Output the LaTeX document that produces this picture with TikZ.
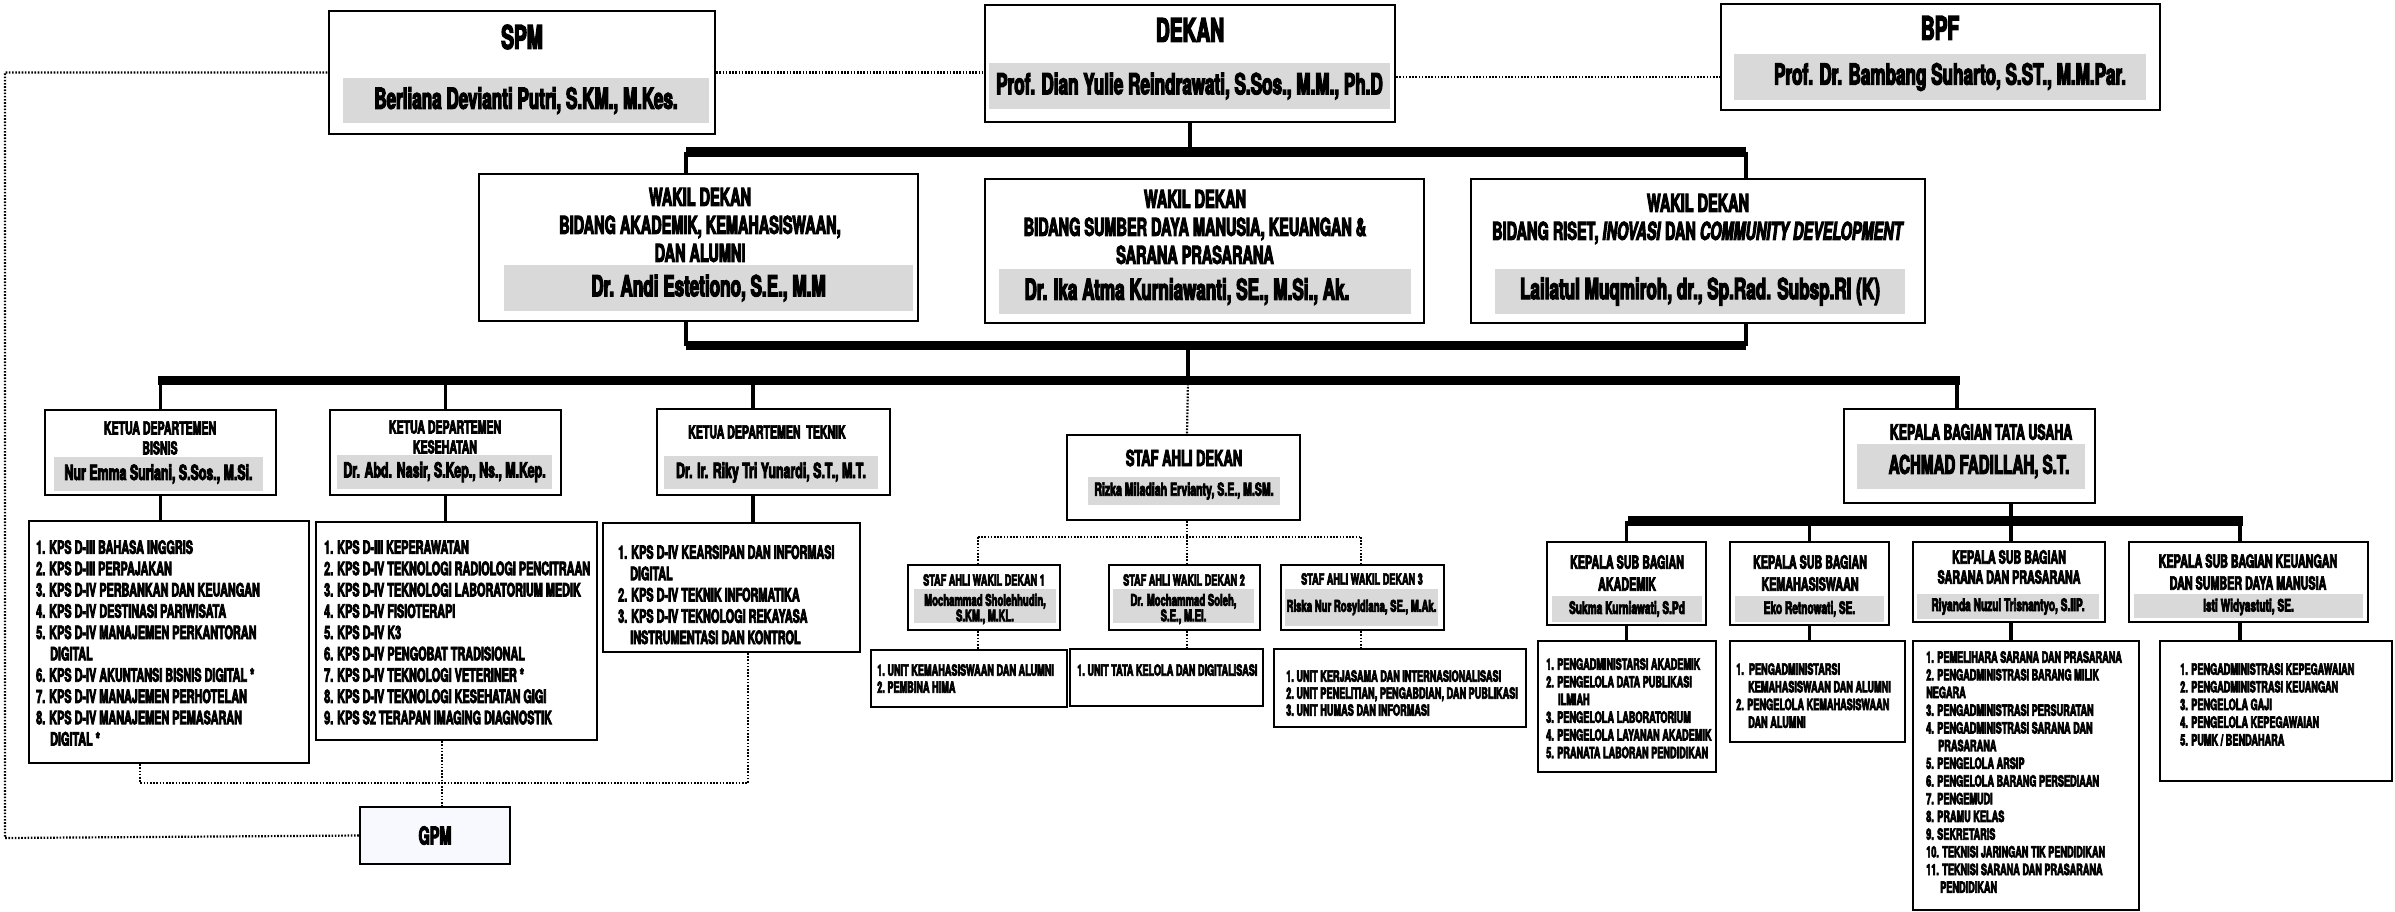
\documentclass[tikz,border=0pt]{standalone}
\usepackage{fontspec}
\setmainfont{TeX Gyre Heros}[FakeStretch=0.59,FakeBold=4]
\usetikzlibrary{calc}
\usetikzlibrary{fit}
\usetikzlibrary{backgrounds}
\definecolor{bandgray}{HTML}{D9D9D9}
\definecolor{gpmfill}{HTML}{F8F8FF}

\begin{document}
\begin{tikzpicture}[x=1pt,y=-1pt,
  every node/.style={inner sep=0pt,font=\bfseries},
  box/.style={draw,line width=2.4pt,fill=white,inner sep=0pt},
  band/.style={fill=bandgray,inner sep=0pt},
  conn/.style={line width=3.5pt},
  bar/.style={line width=9.5pt},
  dots/.style={line width=2.2pt,dash pattern=on 1.6pt off 1.6pt},
  bigtitle/.style={font=\fontsize{32.5}{36}\selectfont\bfseries},
  bigname/.style={font=\fontsize{29}{32}\selectfont\bfseries},
  wdtitle/.style={font=\fontsize{24.5}{28}\selectfont\bfseries,align=center},
  kdtitle/.style={font=\fontsize{17.9}{20}\selectfont\bfseries,align=center},
  kdname/.style={font=\fontsize{21}{23}\selectfont\bfseries},
  kdlist/.style={font=\fontsize{18.4}{21.3}\selectfont\bfseries,align=left,anchor=north west},
  satitle/.style={font=\fontsize{22}{24}\selectfont\bfseries},
  saname/.style={font=\fontsize{17.9}{20}\selectfont\bfseries},
  swtitle/.style={font=\fontsize{15.5}{16}\selectfont\bfseries},
  swname/.style={font=\fontsize{16.2}{15.5}\selectfont\bfseries,align=center},
  unitlist/.style={font=\fontsize{15.5}{17}\selectfont\bfseries,align=left,anchor=north west},
  tutitle/.style={font=\fontsize{21}{23}\selectfont\bfseries},
  tuname/.style={font=\fontsize{25.6}{28}\selectfont\bfseries},
  sbtitle/.style={font=\fontsize{18.2}{22}\selectfont\bfseries,align=center},
  sbname/.style={font=\fontsize{17.2}{19}\selectfont\bfseries},
  sblist/.style={font=\fontsize{15.5}{17.7}\selectfont\bfseries,align=left,anchor=north west}]

\useasboundingbox (0,0) rectangle (2395,912);

\node[box,fit={(329,11) (715,134)}] (spm) {};
\node[bigtitle] (spmt) at (522,37) {SPM};
\node[band,fit={(343,78) (709,123)}] (spmb) {};
\node[bigname] (spmn) at (spmb) {Berliana Devianti Putri, S.KM., M.Kes.};

\node[box,fit={(985,5) (1395,122)}] (dek) {};
\node[bigtitle] (dekt) at (1190,30) {DEKAN};
\node[band,fit={(989,63) (1390,109)}] (dekb) {};
\node[bigname] (dekn) at (dekb) {Prof. Dian Yulie Reindrawati, S.Sos., M.M., Ph.D};

\node[box,fit={(1721,4) (2160,110)}] (bpf) {};
\node[bigtitle] (bpft) at (1940,28) {BPF};
\node[band,fit={(1734,54) (2146,100)}] (bpfb) {};
\node[bigname] (bpfn) at ([xshift=10pt]bpfb.center) {Prof. Dr. Bambang Suharto, S.ST., M.M.Par.};

\node[box,fit={(479,174) (918,321)}] (wd1) {};
\node[wdtitle] (wd1t) at (700,225) {WAKIL DEKAN\\BIDANG AKADEMIK, KEMAHASISWAAN,\\DAN ALUMNI};
\node[band,fit={(504,265) (913,311)}] (wd1b) {};
\node[bigname] (wd1n) at (wd1b) {Dr. Andi Estetiono, S.E., M.M};

\node[box,fit={(985,179) (1424,323)}] (wd2) {};
\node[wdtitle] (wd2t) at (1195,227) {WAKIL DEKAN\\BIDANG SUMBER DAYA MANUSIA, KEUANGAN \&\\SARANA PRASARANA};
\node[band,fit={(999,269) (1411,314)}] (wd2b) {};
\node[bigname] (wd2n) at ([xshift=-18pt]wd2b.center) {Dr. Ika Atma Kurniawanti, SE., M.Si., Ak.};

\node[box,fit={(1471,179) (1925,323)}] (wd3) {};
\node[wdtitle] (wd3t) at (1698,219) {WAKIL DEKAN\\BIDANG RISET, \textit{INOVASI} DAN \textit{COMMUNITY DEVELOPMENT}};
\node[band,fit={(1495,269) (1905,314)}] (wd3b) {};
\node[bigname] (wd3n) at (wd3b) {Lailatul Muqmiroh, dr., Sp.Rad. Subsp.RI (K)};

\node[box,fit={(45,410) (276,495)}] (bis) {};
\node[kdtitle] (bist) at (160,438) {KETUA DEPARTEMEN\\BISNIS};
\node[band,fit={(54,457) (263,491)}] (bisb) {};
\node[kdname] (bisn) at (bisb) {Nur Emma Suriani, S.Sos., M.Si.};

\node[box,fit={(330,410) (561,495)}] (kes) {};
\node[kdtitle] (kest) at (445,437) {KETUA DEPARTEMEN\\KESEHATAN};
\node[band,fit={(337,455) (552,489)}] (kesb) {};
\node[kdname] (kesn) at (kesb) {Dr. Abd. Nasir, S.Kep., Ns., M.Kep.};

\node[box,fit={(657,409) (890,495)}] (tek) {};
\node[kdtitle] (tekt) at (767,432) {KETUA DEPARTEMEN\ \ TEKNIK};
\node[band,fit={(664,456) (878,489)}] (tekb) {};
\node[kdname] (tekn) at (tekb) {Dr. Ir. Riky Tri Yunardi, S.T., M.T.};

\node[box,fit={(29,521) (309,763)}] (bisl) {};
\node[kdlist] (bislt) at (36,540) {1. KPS D-III BAHASA INGGRIS\\2. KPS D-III PERPAJAKAN\\3. KPS D-IV PERBANKAN DAN KEUANGAN\\4. KPS D-IV DESTINASI PARIWISATA\\5. KPS D-IV MANAJEMEN PERKANTORAN\\\hspace*{14pt}DIGITAL\\6. KPS D-IV AKUNTANSI BISNIS DIGITAL *\\7. KPS D-IV MANAJEMEN PERHOTELAN\\8. KPS D-IV MANAJEMEN PEMASARAN\\\hspace*{14pt}DIGITAL *};

\node[box,fit={(316,522) (597,740)}] (kesl) {};
\node[kdlist] (keslt) at (324,540) {1. KPS D-III KEPERAWATAN\\2. KPS D-IV TEKNOLOGI RADIOLOGI PENCITRAAN\\3. KPS D-IV TEKNOLOGI LABORATORIUM MEDIK\\4. KPS D-IV FISIOTERAPI\\5. KPS D-IV K3\\6. KPS D-IV PENGOBAT TRADISIONAL\\7. KPS D-IV TEKNOLOGI VETERINER *\\8. KPS D-IV TEKNOLOGI KESEHATAN GIGI\\9. KPS S2 TERAPAN IMAGING DIAGNOSTIK};

\node[box,fit={(603,523) (860,652)}] (tekl) {};
\node[kdlist] (teklt) at (618,545) {1. KPS D-IV KEARSIPAN DAN INFORMASI\\\hspace*{12pt}DIGITAL\\2. KPS D-IV TEKNIK INFORMATIKA\\3. KPS D-IV TEKNOLOGI REKAYASA\\\hspace*{12pt}INSTRUMENTASI DAN KONTROL};

\node[box,fill=gpmfill,fit={(360,807) (510,864)}] (gpm) {};
\node[font=\fontsize{24.5}{26}\selectfont\bfseries] (gpmt) at (gpm) {GPM};

\node[box,fit={(1067,435) (1300,520)}] (sad) {};
\node[satitle] (sadt) at (1184,458) {STAF AHLI DEKAN};
\node[band,fit={(1088,477) (1280,505)}] (sadb) {};
\node[saname] (sadn) at (sadb) {Rizka Miladiah Ervianty, S.E., M.SM.};

\node[box,fit={(908,565) (1060,630)}] (sa1) {};
\node[swtitle] (sa1t) at (984,580) {STAF AHLI WAKIL DEKAN 1};
\node[band,fit={(914,589) (1056,623)}] (sa1b) {};
\node[swname] (sa1n) at ([yshift=-3pt]sa1b.center) {Mochammad Sholehhudin,\\S.KM., M.KL.};

\node[box,fit={(1109,565) (1260,630)}] (sa2) {};
\node[swtitle] (sa2t) at (1184,580) {STAF AHLI WAKIL DEKAN 2};
\node[band,fit={(1113,589) (1254,623)}] (sa2b) {};
\node[swname] (sa2n) at ([yshift=-3pt]sa2b.center) {Dr. Mochammad Soleh,\\S.E., M.EI.};

\node[box,fit={(1281,565) (1444,630)}] (sa3) {};
\node[swtitle] (sa3t) at (1362,579) {STAF AHLI WAKIL DEKAN 3};
\node[band,fit={(1285,589) (1438,626)}] (sa3b) {};
\node[swname] (sa3n) at (sa3b) {Riska Nur Rosyidiana, SE., M.Ak.};

\node[box,fit={(871,650) (1067,707)}] (u1) {};
\node[unitlist] (u1t) at (877,664) {1.\,UNIT KEMAHASISWAAN DAN ALUMNI\\2.\,PEMBINA HIMA};
\node[box,fit={(1070,649) (1263,706)}] (u2) {};
\node[unitlist] (u2t) at (1077,664) {1.\,UNIT TATA KELOLA DAN DIGITALISASI};
\node[box,fit={(1274,649) (1526,727)}] (u3) {};
\node[unitlist] (u3t) at (1286,670) {1.\,UNIT KERJASAMA DAN INTERNASIONALISASI\\2.\,UNIT PENELITIAN, PENGABDIAN, DAN PUBLIKASI\\3.\,UNIT HUMAS DAN INFORMASI};

\node[box,fit={(1844,409) (2095,503)}] (tu) {};
\node[tutitle] (tut) at (1981,432) {KEPALA BAGIAN TATA USAHA};
\node[band,fit={(1857,444) (2085,489)}] (tub) {};
\node[tuname] (tun) at ([xshift=8pt]tub.center) {ACHMAD FADILLAH, S.T.};

\node[box,fit={(1547,542) (1706,625)}] (sb1) {};
\node[sbtitle] (sb1t) at (1627,573) {KEPALA SUB BAGIAN\\AKADEMIK};
\node[band,fit={(1552,596) (1702,622)}] (sb1b) {};
\node[sbname] (sb1n) at (sb1b) {Sukma Kurniawati, S.Pd};

\node[box,fit={(1730,542) (1889,625)}] (sb2) {};
\node[sbtitle] (sb2t) at (1810,573) {KEPALA SUB BAGIAN\\KEMAHASISWAAN};
\node[band,fit={(1735,596) (1884,622)}] (sb2b) {};
\node[sbname] (sb2n) at (sb2b) {Eko Retnowati, SE.};

\node[box,fit={(1913,542) (2105,622)}] (sb3) {};
\node[sbtitle,font=\fontsize{18.2}{20}\selectfont\bfseries] (sb3t) at (2009,567) {KEPALA SUB BAGIAN\\SARANA DAN PRASARANA};
\node[band,fit={(1917,594) (2099,619)}] (sb3b) {};
\node[sbname] (sb3n) at (sb3b) {Riyanda Nuzul Trisnantyo, S.IIP.};

\node[box,fit={(2129,542) (2368,622)}] (sb4) {};
\node[sbtitle] (sb4t) at (2248,572) {KEPALA SUB BAGIAN KEUANGAN\\DAN SUMBER DAYA MANUSIA};
\node[band,fit={(2134,594) (2363,618)}] (sb4b) {};
\node[sbname] (sb4n) at ([yshift=-1pt]sb4b.center) {Isti Widyastuti, SE.};

\node[box,fit={(1538,641) (1716,772)}] (l1) {};
\node[sblist] (l1t) at (1546,658) {1. PENGADMINISTARSI AKADEMIK\\2. PENGELOLA DATA PUBLIKASI\\\hspace*{12pt}ILMIAH\\3. PENGELOLA LABORATORIUM\\4. PENGELOLA LAYANAN AKADEMIK\\5. PRANATA LABORAN PENDIDIKAN};

\node[box,fit={(1730,641) (1905,742)}] (l2) {};
\node[sblist] (l2t) at (1736,663) {1.\ \ PENGADMINISTARSI\\\hspace*{12pt}KEMAHASISWAAN DAN ALUMNI\\2. PENGELOLA KEMAHASISWAAN\\\hspace*{12pt}DAN ALUMNI};

\node[box,fit={(1913,641) (2139,910)}] (l3) {};
\node[sblist] (l3t) at (1926,651) {1. PEMELIHARA SARANA DAN PRASARANA\\2. PENGADMINISTRASI BARANG MILIK\\NEGARA\\3. PENGADMINISTRASI PERSURATAN\\4. PENGADMINISTRASI SARANA DAN\\\hspace*{12pt}PRASARANA\\5. PENGELOLA ARSIP\\6. PENGELOLA BARANG PERSEDIAAN\\7. PENGEMUDI\\8. PRAMU KELAS\\9. SEKRETARIS\\10. TEKNISI JARINGAN TIK PENDIDIKAN\\11. TEKNISI SARANA DAN PRASARANA\\\hspace*{14pt}PENDIDIKAN};

\node[box,fit={(2160,641) (2392,781)}] (l4) {};
\node[sblist] (l4t) at (2180,663) {1. PENGADMINISTRASI KEPEGAWAIAN\\2. PENGADMINISTRASI KEUANGAN\\3. PENGELOLA GAJI\\4. PENGELOLA KEPEGAWAIAN\\5. PUMK / BENDAHARA};

\begin{scope}[on background layer]
\coordinate (b1l) at (686,152);
\coordinate (b1r) at (1746,152);
\coordinate (b2l) at (686,345.5);
\coordinate (b2r) at (1746,345.5);
\coordinate (b2c) at (1188,345.5);
\coordinate (lbl) at (158,380.5);
\coordinate (lbr) at (1960,380.5);
\coordinate (tekx) at (753,0);
\coordinate (tux) at (1957,0);
\coordinate (tbl) at (1628,521);
\coordinate (tbr) at (2243,521);
\coordinate (tbx) at (2011,0);
\coordinate (sbx4) at (2240,0);
\coordinate (sah) at (1187,537);
\coordinate (sahl) at (978,537);
\coordinate (sahr) at (1361,537);
\coordinate (gl) at (140,783);
\coordinate (gr) at (748,783);
\coordinate (gx) at (442,783);
\coordinate (lft) at (5,838);
\coordinate (dby) at (0,77);

\draw[dots] (spm.east) -- (spm.east -| dek.west);
\draw[dots] (dek.east |- dby) -- (bpf.west |- dby);
\draw[dots] (gpm.west) -- (lft) -- (lft |- spm.west) -- (spm.west);

\draw[conn] (dek.south) -- (dek.south |- b1l);
\draw[bar] (b1l) -- (b1r);
\draw[conn] (b1l) -- (b2l);
\draw[conn] (b1r) -- (b2r);
\draw[bar] (b2l) -- (b2r);
\draw[conn] (b2c) -- (b2c |- lbl);
\draw[bar] (lbl) -- (lbr);

\draw[conn] (bis.north |- lbl) -- (bis.north);
\draw[conn] (kes.north |- lbl) -- (kes.north);
\draw[conn] (tekx |- lbl) -- (tekx |- tek.north);
\draw[conn] (tux |- lbl) -- (tux |- tu.north);
\draw[dots] (b2c |- lbl) -- (sah |- sad.north);

\draw[conn] (bis.south) -- (bis.south |- bisl.north);
\draw[conn] (kes.south) -- (kes.south |- kesl.north);
\draw[conn] (tekx |- tek.south) -- (tekx |- tekl.north);

\draw[dots] (gl |- bisl.south) -- (gl) -- (gr) -- (gr |- tekl.south);
\draw[dots] (gx |- kesl.south) -- (gx |- gpm.north);

\draw[dots] (sah |- sad.south) -- (sah);
\draw[dots] (sahl) -- (sahr);
\draw[dots] (sahl) -- (sahl |- sa1.north);
\draw[dots] (sah) -- (sah |- sa2.north);
\draw[dots] (sahr) -- (sahr |- sa3.north);
\draw[dots] (sahl |- sa1.south) -- (sahl |- u1.north);
\draw[dots] (sah |- sa2.south) -- (sah |- u2.north);
\draw[dots] (sahr |- sa3.south) -- (sahr |- u3.north);

\draw[conn] (tbx |- tu.south) -- (tbx |- tbl);
\draw[bar] (tbl) -- (tbr);
\draw[conn] (sb1.north |- tbl) -- (sb1.north);
\draw[conn] (sb2.north |- tbl) -- (sb2.north);
\draw[conn] (tbx |- tbl) -- (tbx |- sb3.north);
\draw[conn] (sbx4 |- tbl) -- (sbx4 |- sb4.north);
\draw[conn] (sb1.south) -- (sb1.south |- l1.north);
\draw[conn] (sb2.south) -- (sb2.south |- l2.north);
\draw[conn] (tbx |- sb3.south) -- (tbx |- l3.north);
\draw[conn] (sbx4 |- sb4.south) -- (sbx4 |- l4.north);
\end{scope}
\end{tikzpicture}
\end{document}
